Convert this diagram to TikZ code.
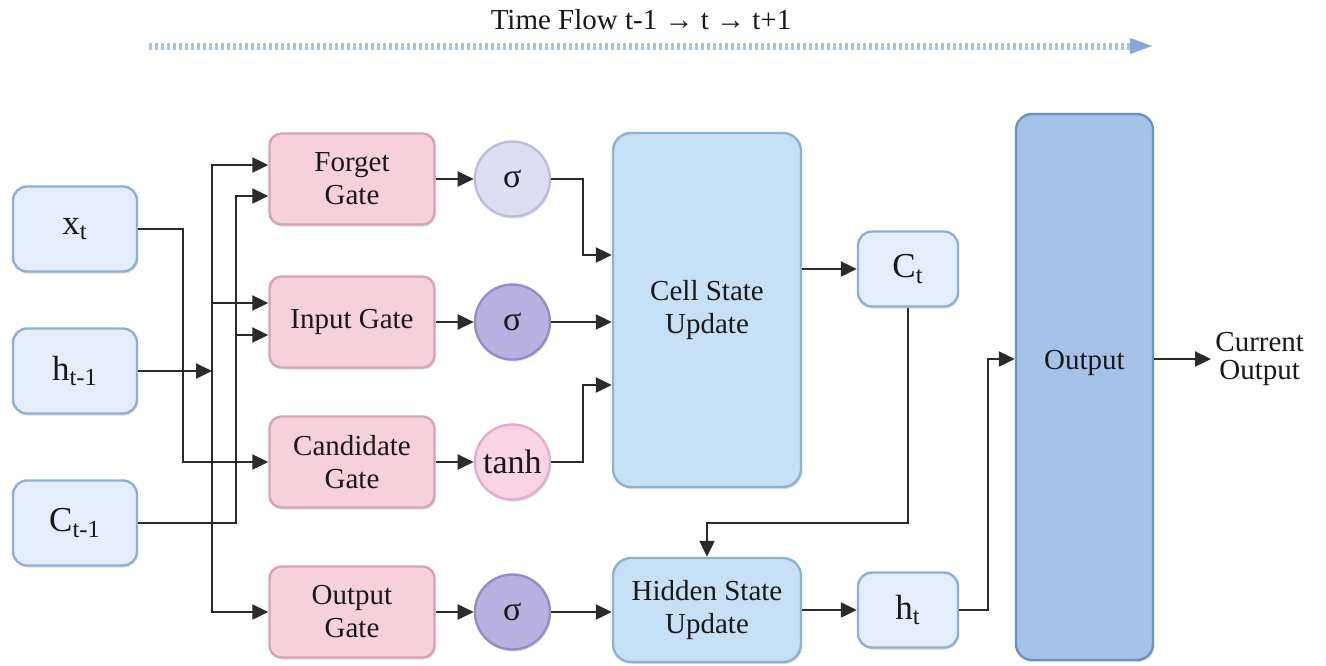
\documentclass[tikz,border=0pt]{standalone}
\usepackage{fontspec}
\setmainfont{Liberation Serif}
\usetikzlibrary{arrows.meta, positioning, shadows}
\definecolor{inputfill}{HTML}{E4EEFA}
\definecolor{inputdraw}{HTML}{8EB0D6}
\definecolor{gatefill}{HTML}{F6D0DA}
\definecolor{gatedraw}{HTML}{D9A3B3}
\definecolor{statefill}{HTML}{C6E0F5}
\definecolor{statedraw}{HTML}{8DB2D2}
\definecolor{outfill}{HTML}{A5C3E8}
\definecolor{outdraw}{HTML}{6A92C4}
\definecolor{actlightfill}{HTML}{DEDEF3}
\definecolor{actlightdraw}{HTML}{BDBDE3}
\definecolor{actfill}{HTML}{B9B1E0}
\definecolor{actdraw}{HTML}{978CCB}
\definecolor{tanhfill}{HTML}{F8D4E4}
\definecolor{tanhdraw}{HTML}{E2AECB}
\definecolor{linecol}{HTML}{2B2B2B}
\definecolor{flowcol}{HTML}{A8C3E6}
\definecolor{flowtip}{HTML}{86A9DA}
\tikzset{
    softshadow/.style={drop shadow={shadow xshift=0.6pt, shadow yshift=-1pt, opacity=0.22, fill=black!60}},
    inbox/.style={rectangle, rounded corners=7pt, draw=inputdraw, fill=inputfill, line width=1.2pt, minimum width=62pt, minimum height=42.5pt, text=black!90, font=\fontsize{17.5}{20}\selectfont, softshadow},
    smallbox/.style={inbox, minimum width=50pt, minimum height=37.5pt},
    gate/.style={rectangle, rounded corners=6pt, draw=gatedraw, fill=gatefill, line width=1.2pt, minimum width=82.5pt, minimum height=45.5pt, align=center, text=black!90, font=\fontsize{14.5}{16.5}\selectfont, softshadow},
    statebox/.style={rectangle, rounded corners=9pt, draw=statedraw, fill=statefill, line width=1.2pt, minimum width=94pt, align=center, text=black!90, font=\fontsize{14.5}{16.5}\selectfont, softshadow},
    outbox/.style={rectangle, rounded corners=8pt, draw=outdraw, fill=outfill, line width=1.2pt, minimum width=68.5pt, minimum height=273pt, softshadow},
    act/.style={circle, draw=actdraw, fill=actfill, line width=1.2pt, minimum size=37.5pt, inner sep=0pt, text=black!90, font=\fontsize{17}{18}\selectfont, softshadow},
    actlight/.style={act, draw=actlightdraw, fill=actlightfill},
    acttanh/.style={act, draw=tanhdraw, fill=tanhfill},
    plain/.style={align=center, inner sep=2pt, text=black!90, font=\fontsize{14.5}{14}\selectfont},
    arrow/.style={draw=linecol, line width=1.1pt, -{Triangle[length=8pt, width=7.5pt]}},
    timeflow/.style={draw=flowcol, line width=3.5pt, dash pattern=on 1.5pt off 1.5pt, -{Triangle[length=11pt, width=8pt, line width=0.1pt, color=flowtip]}}
}
\begin{document}
\begin{tikzpicture}[x=0.5pt, y=-0.5pt, node distance=19pt]
    \useasboundingbox (0,0) rectangle (1326,665);
    % Time flow
    \node (title) [plain, font=\fontsize{14.5}{15}\selectfont] at (641,20) {Time Flow t-1 → t → t+1};
    \coordinate (flowstart) at (149,46);
    \coordinate (flowend) at (1152,46);
    \draw [timeflow] (flowstart) -- (flowend);
    % Inputs
    \node (xt) [inbox] at (75,229) {x\textsubscript{t}};
    \node (hprev) [inbox] at (75,371) {h\textsubscript{t-1}};
    \node (cprev) [inbox] at (75,523) {C\textsubscript{t-1}};
    % Gates
    \node (forget) [gate] at (352,179) {Forget\\Gate};
    \node (input) [gate] at (352,322) {Input Gate};
    \node (cand) [gate] at (352,462) {Candidate\\Gate};
    \node (outgate) [gate] at (352,612) {Output\\Gate};
    % Activations
    \node (sigf) [actlight, right=of forget] {σ};
    \node (sigi) [act, right=of input] {σ};
    \node (tanhc) [acttanh, right=of cand] {tanh};
    \node (sigo) [act, right=of outgate] {σ};
    % States and output
    \node (cell) [statebox, minimum height=177pt] at (707,310) {Cell State\\Update};
    \node (hidden) [statebox, minimum height=52pt] at (707,610) {Hidden State\\Update};
    \node (ct) [smallbox] at (908,269) {C\textsubscript{t}};
    \node (ht) [smallbox] at (908,610) {h\textsubscript{t}};
    \node (output) [outbox, label={[yshift=12pt, text=black!90, font=\fontsize{14.5}{16.5}\selectfont]center:Output}] at (1084.5,387) {};
    \node (current) [plain, anchor=west] at (1211,359) {Current\\Output};
    % Input wiring
    \coordinate (hbus) at (212,371);
    \coordinate (cbus) at (236,523);
    \coordinate (fg1) at ([yshift=7pt]forget.west);
    \coordinate (fg2) at ([yshift=-8.5pt]forget.west);
    \coordinate (ig1) at ([yshift=9.5pt]input.west);
    \coordinate (ig2) at ([yshift=-6.5pt]input.west);
    \draw [arrow] (xt.east) -- ++(45,0) |- (cand.west);
    \draw [arrow] (hprev.east) -- (hbus);
    \draw [arrow] (hbus) |- (fg1);
    \draw [arrow] (hbus) |- (outgate.west);
    \draw [arrow] (hbus |- ig1) -- (ig1);
    \draw [arrow] (cprev.east) -- (cbus) |- (fg2);
    \draw [arrow] (cbus |- ig2) -- (ig2);
    % Gate wiring
    \draw [arrow] (forget) -- (sigf);
    \draw [arrow] (input) -- (sigi);
    \draw [arrow] (cand) -- (tanhc);
    \draw [arrow] (outgate) -- (sigo);
    \coordinate (cw1) at ([yshift=27.5pt]cell.west);
    \coordinate (cw3) at ([yshift=-37.5pt]cell.west);
    \draw [arrow] (sigf.east) -- ++(32,0) |- (cw1);
    \draw [arrow] (sigi.east) -- (sigi.east -| cell.west);
    \draw [arrow] (tanhc.east) -- ++(32,0) |- (cw3);
    \draw [arrow] (sigo.east) -- (sigo.east -| hidden.west);
    % State wiring
    \draw [arrow] (cell.east |- ct) -- (ct.west);
    \draw [arrow] (ct.south) -- ++(0,215) -| (hidden.north);
    \draw [arrow] (hidden.east |- ht) -- (ht.west);
    \draw [arrow] (ht.east) -- ++(29,0) |- (output.west |- current);
    \draw [arrow] (output.east |- current) -- (current.west);
\end{tikzpicture}
\end{document}
